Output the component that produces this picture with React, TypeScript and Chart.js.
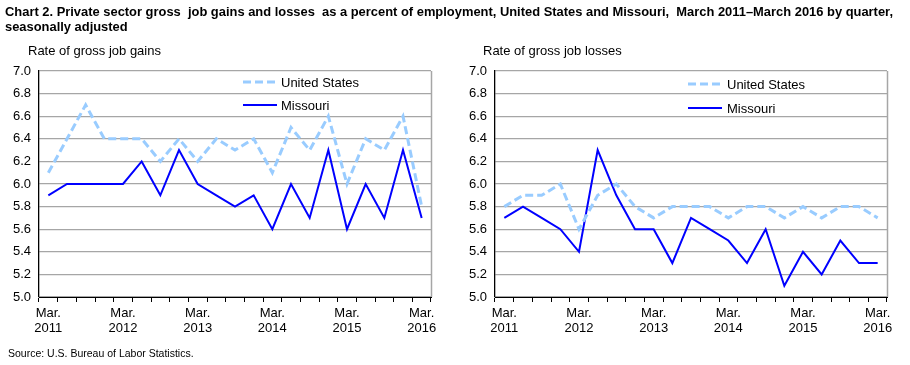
import React, { useEffect, useLayoutEffect, useRef } from "react";
import { Chart, registerables } from "chart.js";

Chart.register(...registerables);

// ---- Data ----
const quarters = [
  "Mar. 2011", "Jun. 2011", "Sep. 2011", "Dec. 2011",
  "Mar. 2012", "Jun. 2012", "Sep. 2012", "Dec. 2012",
  "Mar. 2013", "Jun. 2013", "Sep. 2013", "Dec. 2013",
  "Mar. 2014", "Jun. 2014", "Sep. 2014", "Dec. 2014",
  "Mar. 2015", "Jun. 2015", "Sep. 2015", "Dec. 2015",
  "Mar. 2016",
];

const gainsUS = [6.1, 6.4, 6.7, 6.4, 6.4, 6.4, 6.2, 6.4, 6.2, 6.4, 6.3, 6.4, 6.1, 6.5, 6.3, 6.6, 6.0, 6.4, 6.3, 6.6, 5.8];
const gainsMO = [5.9, 6.0, 6.0, 6.0, 6.0, 6.2, 5.9, 6.3, 6.0, 5.9, 5.8, 5.9, 5.6, 6.0, 5.7, 6.3, 5.6, 6.0, 5.7, 6.3, 5.7];

const lossesUS = [5.8, 5.9, 5.9, 6.0, 5.6, 5.9, 6.0, 5.8, 5.7, 5.8, 5.8, 5.8, 5.7, 5.8, 5.8, 5.7, 5.8, 5.7, 5.8, 5.8, 5.7];
const lossesMO = [5.7, 5.8, 5.7, 5.6, 5.4, 6.3, 5.9, 5.6, 5.6, 5.3, 5.7, 5.6, 5.5, 5.3, 5.6, 5.1, 5.4, 5.2, 5.5, 5.3, 5.3];

const seriesNames = ["United States", "Missouri"];
const yMin = 5.0;
const yMax = 7.0;
const yStep = 0.2;

const titleLine1 =
  "Chart 2. Private sector gross  job gains and losses  as a percent of employment, United States and Missouri,  March 2011\u2013March 2016 by quarter,";
const titleLine2 = "seasonally adjusted";
const panelTitles = ["Rate of gross job gains", "Rate of gross job losses"];
const sourceText = "Source: U.S. Bureau of Labor Statistics.";

// ---- Styles ----
const FONT = '"Liberation Sans", Arial, sans-serif';
const US_COLOR = "#99CCFF";
const MO_COLOR = "#0000FF";
const GRID_COLOR = "#a6a6a6";

type LegendPos = { lineX1: number; lineX2: number; textX: number; y1: number; y2: number };

const legendPlugin = {
  id: "inlineLegend",
  afterDraw(chart: any, _args: any, opts: any) {
    const ctx = chart.ctx as CanvasRenderingContext2D;
    const area = chart.chartArea;
    // right frame line
    ctx.save();
    ctx.strokeStyle = GRID_COLOR;
    ctx.lineWidth = 1.5;
    ctx.beginPath();
    ctx.moveTo(Math.round(area.right) + 0.5, area.top);
    ctx.lineTo(Math.round(area.right) + 0.5, area.bottom);
    ctx.stroke();
    ctx.restore();

    const p: LegendPos = opts.pos;
    if (!p) return;
    const dsets = chart.data.datasets;
    const ys = [p.y1, p.y2];
    dsets.forEach((ds: any, i: number) => {
      ctx.save();
      ctx.strokeStyle = ds.borderColor;
      ctx.lineWidth = ds.borderWidth;
      ctx.setLineDash(ds.borderDash || []);
      ctx.beginPath();
      ctx.moveTo(p.lineX1, ys[i]);
      ctx.lineTo(p.lineX2, ys[i]);
      ctx.stroke();
      ctx.setLineDash([]);
      ctx.fillStyle = "#000";
      ctx.font = `13px ${FONT}`;
      ctx.textBaseline = "middle";
      ctx.textAlign = "left";
      ctx.fillText(ds.label, p.textX, ys[i] + 1);
      ctx.restore();
    });
  },
};

function makeConfig(us: number[], mo: number[], yAxisWidth: number, rightPad: number, legendPos: LegendPos): any {
  return {
    type: "line",
    data: {
      labels: quarters,
      datasets: [
        {
          label: seriesNames[0],
          data: us,
          borderColor: US_COLOR,
          backgroundColor: US_COLOR,
          borderWidth: 3,
          borderDash: [8, 4],
          pointRadius: 0,
          tension: 0,
          fill: false,
        },
        {
          label: seriesNames[1],
          data: mo,
          borderColor: MO_COLOR,
          backgroundColor: MO_COLOR,
          borderWidth: 2,
          pointRadius: 0,
          tension: 0,
          fill: false,
        },
      ],
    },
    options: {
      responsive: false,
      animation: false,
      maintainAspectRatio: false,
      layout: { padding: { left: 0, right: rightPad, top: 71, bottom: 0 } },
      plugins: {
        legend: { display: false },
        tooltip: { enabled: false },
        title: { display: false },
        inlineLegend: { pos: legendPos },
      },
      scales: {
        x: {
          type: "category",
          offset: true,
          afterFit(scale: any) {
            scale.height = 68;
          },
          grid: {
            display: true,
            drawOnChartArea: false,
            drawTicks: true,
            tickLength: 5,
            color: "#000",
            offset: true,
          },
          border: { display: true, color: "#000", width: 1 },
          ticks: {
            autoSkip: false,
            maxRotation: 0,
            minRotation: 0,
            padding: 4,
            color: "#000",
            font: { family: FONT, size: 13, lineHeight: 1.15 },
            callback(_v: any, i: number) {
              const q = quarters[i];
              if (!q.startsWith("Mar.")) return "";
              return q.split(" ");
            },
          },
        },
        y: {
          min: yMin,
          max: yMax,
          afterFit(scale: any) {
            scale.width = yAxisWidth;
          },
          grid: {
            display: true,
            drawTicks: false,
            color: GRID_COLOR,
            lineWidth: 1.3,
          },
          border: { display: true, color: "#000", width: 1.3 },
          ticks: {
            stepSize: yStep,
            padding: 8,
            color: "#000",
            font: { family: FONT, size: 13 },
            callback(v: any) {
              return Number(v).toFixed(1);
            },
          },
        },
      },
    },
    plugins: [legendPlugin],
  };
}

export default function App() {
  const leftRef = useRef<HTMLCanvasElement>(null);
  const rightRef = useRef<HTMLCanvasElement>(null);
  const titleRef = useRef<HTMLDivElement>(null);
  const line1Ref = useRef<HTMLSpanElement>(null);

  useLayoutEffect(() => {
    const t = titleRef.current;
    const s = line1Ref.current;
    if (!t || !s) return;
    const w = s.getBoundingClientRect().width;
    if (w > 0) t.style.transform = `scaleX(${888 / w})`;
  }, []);

  useEffect(() => {
    const c1 = new Chart(
      leftRef.current as HTMLCanvasElement,
      makeConfig(gainsUS, gainsMO, 39, 24, { lineX1: 243, lineX2: 277, textX: 281, y1: 82, y2: 105 })
    );
    const c2 = new Chart(
      rightRef.current as HTMLCanvasElement,
      makeConfig(lossesUS, lossesMO, 40, 23, { lineX1: 233, lineX2: 267, textX: 272, y1: 84, y2: 108 })
    );
    return () => {
      c1.destroy();
      c2.destroy();
    };
  }, []);

  return (
    <div
      style={{
        position: "fixed",
        left: 0,
        top: 0,
        width: 910,
        height: 365,
        background: "#fff",
        overflow: "hidden",
        fontFamily: FONT,
        color: "#000",
      }}
    >
      <canvas ref={leftRef} width={455} height={365} style={{ position: "absolute", left: 0, top: 0 }} />
      <canvas ref={rightRef} width={455} height={365} style={{ position: "absolute", left: 455, top: 0 }} />
      <div
        ref={titleRef}
        style={{
          position: "absolute",
          left: 5,
          top: 4,
          fontWeight: "bold",
          fontSize: 13,
          lineHeight: "15px",
          whiteSpace: "pre",
          transformOrigin: "0 0",
        }}
      >
        <span ref={line1Ref}>{titleLine1}</span>
        <br />
        <span>{titleLine2}</span>
      </div>
      <div style={{ position: "absolute", left: 28, top: 43, fontSize: 13, lineHeight: "16px", whiteSpace: "nowrap" }}>
        {panelTitles[0]}
      </div>
      <div style={{ position: "absolute", left: 483, top: 43, fontSize: 13, lineHeight: "16px", whiteSpace: "nowrap" }}>
        {panelTitles[1]}
      </div>
      <div style={{ position: "absolute", left: 8, top: 346, fontSize: 10.5, lineHeight: "14px", whiteSpace: "nowrap" }}>
        {sourceText}
      </div>
    </div>
  );
}
